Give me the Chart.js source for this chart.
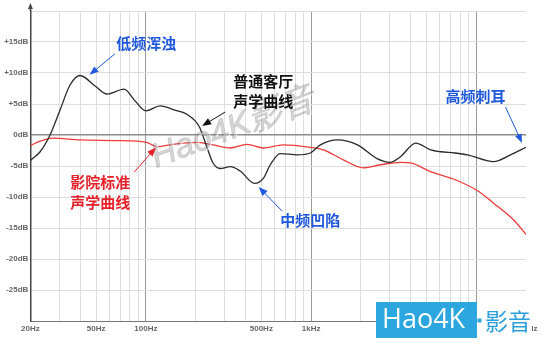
<!DOCTYPE html>
<html>
<head>
<meta charset="utf-8">
<script src="https://cdn.jsdelivr.net/npm/chart.js@4.4.0/dist/chart.umd.min.js"></script>
<style>
  body { margin: 0; background: #fff; }
  #wrap { width: 547px; height: 347px; position: relative; }
</style>
</head>
<body>
<div id="wrap"><canvas id="chart"></canvas></div>
<script>
// living room response (black)
const livingFreq = [20, 22.9, 26.3, 30.2, 34.8, 40, 49.3, 58.2, 73.8, 86, 100, 122, 150, 178, 211, 235, 256, 282, 324, 372, 454, 514, 566, 651, 826, 990, 1138, 1443, 1908, 2508, 3000, 3476, 4300, 5300, 6075, 7400, 8850, 12730, 16130, 20000];
const livingDb = [-4.1, -2.7, 0, 4.0, 8.1, 9.6, 7.9, 6.6, 7.4, 5.5, 3.9, 4.7, 4.0, 3.3, 1.3, -2.1, -4.6, -5.4, -5.1, -5.8, -7.8, -7.0, -4.8, -3.0, -3.2, -2.9, -1.6, -0.8, -1.6, -3.8, -4.4, -3.5, -1.3, -2.4, -2.7, -2.9, -3.2, -4.3, -3.2, -2.0];

// cinema standard curve (red)
const cinemaFreq = [20, 22.9, 27.4, 40, 67, 101, 117, 146, 204, 245, 324, 409, 514, 679, 990, 1186, 1568, 2075, 2630, 3476, 4000, 5284, 7280, 10180, 12730, 16820, 20000];
const cinemaDb = [-1.7, -1.0, -0.5, -0.8, -0.9, -1.2, -1.9, -1.5, -1.2, -1.5, -2.1, -1.5, -2.1, -1.6, -2.0, -2.4, -4.0, -5.3, -4.8, -4.4, -4.5, -5.9, -7.1, -9.0, -11.0, -13.7, -16.0];

// x grid lines and labelled ticks
const gridFreqs = [20, 30, 40, 50, 60, 70, 80, 90, 100, 200, 300, 400, 500, 600, 700, 800, 900, 1000, 2000, 3000, 4000, 5000, 6000, 7000, 8000, 9000, 10000, 20000];
const xTickFreqs = [20, 50, 100, 500, 1000, 5000, 10000, 20000];
const xTickLabels = ['20Hz', '50Hz', '100Hz', '500Hz', '1kHz', '5kHz', '10kHz', '20kHz'];

// callouts, placed in data units
const notes = [
  { lines: ['低频浑浊'], color: '#1f58dc', x: 100.6, y: 14.8, align: 'center', from: [65, 13.1], to: [45.6, 9.7] },
  { lines: ['普通客厅', '声学曲线'], color: '#111', x: 338, y: 8.6, align: 'left', from: [302, 3.7], to: [219, 1.45] },
  { lines: ['影院标准', '声学曲线'], color: '#e8202a', x: 34.8, y: -7.7, align: 'left', from: [84.9, -6.0], to: [115, -2.0] },
  { lines: ['中频凹陷'], color: '#1f58dc', x: 651, y: -13.7, align: 'left', from: [670, -12.3], to: [482, -8.4] },
  { lines: ['高频刺耳'], color: '#1f58dc', x: 6512, y: 6.2, align: 'left', from: [15030, 4.5], to: [18940, -1.3] }
];

function toPoints(fs, ds) {
  return fs.map((f, i) => ({ x: f, y: ds[i] }));
}

function arrow(ctx, x1, y1, x2, y2, color) {
  const a = Math.atan2(y2 - y1, x2 - x1);
  ctx.save();
  ctx.strokeStyle = color;
  ctx.fillStyle = color;
  ctx.lineWidth = 1;
  ctx.beginPath();
  ctx.moveTo(x1, y1);
  ctx.lineTo(x2 - 6 * Math.cos(a), y2 - 6 * Math.sin(a));
  ctx.stroke();
  ctx.beginPath();
  ctx.moveTo(x2, y2);
  ctx.lineTo(x2 - 9 * Math.cos(a) + 3.5 * Math.sin(a), y2 - 9 * Math.sin(a) - 3.5 * Math.cos(a));
  ctx.lineTo(x2 - 9 * Math.cos(a) - 3.5 * Math.sin(a), y2 - 9 * Math.sin(a) + 3.5 * Math.cos(a));
  ctx.closePath();
  ctx.fill();
  ctx.restore();
}

const decorPlugin = {
  id: 'decor',
  afterDatasetsDraw(chart) {
    const ctx = chart.ctx;
    const xs = chart.scales.x, ys = chart.scales.y;
    const area = chart.chartArea;

    // y axis arrow on top
    ctx.save();
    ctx.strokeStyle = '#444';
    ctx.fillStyle = '#444';
    ctx.lineWidth = 1.5;
    ctx.beginPath();
    ctx.moveTo(area.left, area.top);
    ctx.lineTo(area.left, area.top - 5);
    ctx.stroke();
    ctx.beginPath();
    ctx.moveTo(area.left, area.top - 8);
    ctx.lineTo(area.left - 2.5, area.top - 2);
    ctx.lineTo(area.left + 2.5, area.top - 2);
    ctx.closePath();
    ctx.fill();
    ctx.restore();

    // diagonal watermark
    ctx.save();
    ctx.translate(156, 168);
    ctx.rotate(-0.36);
    ctx.font = 'italic 34px "Liberation Sans"';
    ctx.fillStyle = 'rgba(255,255,255,0.55)';
    ctx.fillText('Hao4K影音', 1.5, 1.5);
    ctx.fillStyle = 'rgba(120,120,120,0.3)';
    ctx.fillText('Hao4K影音', 0, 0);
    ctx.strokeStyle = 'rgba(110,110,110,0.25)';
    ctx.lineWidth = 0.8;
    ctx.strokeText('Hao4K影音', 0, 0);
    ctx.restore();

    // callouts
    notes.forEach(n => {
      ctx.save();
      ctx.font = 'bold 15px "Noto Sans CJK SC"';
      ctx.fillStyle = n.color;
      ctx.textAlign = n.align;
      ctx.textBaseline = 'middle';
      const px = xs.getPixelForValue(n.x);
      const py = ys.getPixelForValue(n.y);
      n.lines.forEach((t, i) => ctx.fillText(t, px, py + i * 19.5));
      ctx.restore();
      arrow(ctx, xs.getPixelForValue(n.from[0]), ys.getPixelForValue(n.from[1]),
        xs.getPixelForValue(n.to[0]), ys.getPixelForValue(n.to[1]), n.color);
    });
  },
  afterDraw(chart) {
    const ctx = chart.ctx;
    // logo in the corner
    ctx.save();
    ctx.fillStyle = '#2ca6df';
    ctx.fillRect(376, 302, 101, 36);
    ctx.fillStyle = '#fff';
    ctx.fillRect(477, 302, 55, 36);
    ctx.font = '27px "Open Sans"';
    ctx.textBaseline = 'middle';
    ctx.fillStyle = '#fff';
    ctx.fillText('Hao4K', 382, 320);
    ctx.fillStyle = '#2ca6df';
    ctx.fillRect(477.5, 318.5, 4, 4);
    ctx.font = '23px "Noto Sans CJK SC"';
    ctx.fillStyle = '#2c9edb';
    ctx.fillText('影音', 485, 321);
    ctx.restore();
  }
};

new Chart(document.getElementById('chart'), {
  type: 'line',
  data: {
    datasets: [
      {
        label: '普通客厅声学曲线',
        data: toPoints(livingFreq, livingDb),
        borderColor: '#2a2a2a',
        borderWidth: 1.3,
        pointRadius: 0,
        cubicInterpolationMode: 'monotone'
      },
      {
        label: '影院标准声学曲线',
        data: toPoints(cinemaFreq, cinemaDb),
        borderColor: '#ef3a3a',
        borderWidth: 1.3,
        pointRadius: 0,
        cubicInterpolationMode: 'monotone'
      }
    ]
  },
  options: {
    responsive: true,
    maintainAspectRatio: false,
    animation: false,
    layout: { padding: { top: 11, right: 21, left: 0, bottom: 0 } },
    plugins: {
      legend: { display: false },
      tooltip: { enabled: false }
    },
    scales: {
      x: {
        type: 'logarithmic',
        min: 20,
        max: 20000,
        afterBuildTicks: scale => { scale.ticks = gridFreqs.map(v => ({ value: v })); },
        afterFit: scale => { scale.height = 26; },
        border: { color: '#777', width: 1 },
        grid: {
          drawTicks: false,
          color: c => {
            const v = c.tick.value;
            if (v === 20000) return 'rgba(0,0,0,0)';
            if (v === 100 || v === 1000 || v === 10000) return '#9a9a9a';
            return '#dedede';
          }
        },
        ticks: {
          autoSkip: false,
          maxRotation: 0,
          padding: 3,
          color: '#666',
          font: { family: 'Liberation Sans', size: 8, weight: 'bold' },
          callback: v => {
            const i = xTickFreqs.indexOf(v);
            return i >= 0 ? xTickLabels[i] : '';
          }
        }
      },
      y: {
        min: -30,
        max: 20,
        afterFit: scale => { scale.width = 30.4; },
        border: { color: '#444', width: 1.5 },
        grid: {
          drawTicks: false,
          color: c => c.tick.value === 0 ? '#8a8a8a' : '#dcdcdc',
          lineWidth: c => c.tick.value === 0 ? 1.5 : 1
        },
        ticks: {
          stepSize: 5,
          padding: 2,
          color: '#666',
          font: { family: 'Liberation Sans', size: 8, weight: 'bold' },
          callback: v => (v === 20 || v === -30) ? '' : (v > 0 ? '+' : '') + v + 'dB'
        }
      }
    }
  },
  plugins: [decorPlugin]
});
</script>
</body>
</html>
